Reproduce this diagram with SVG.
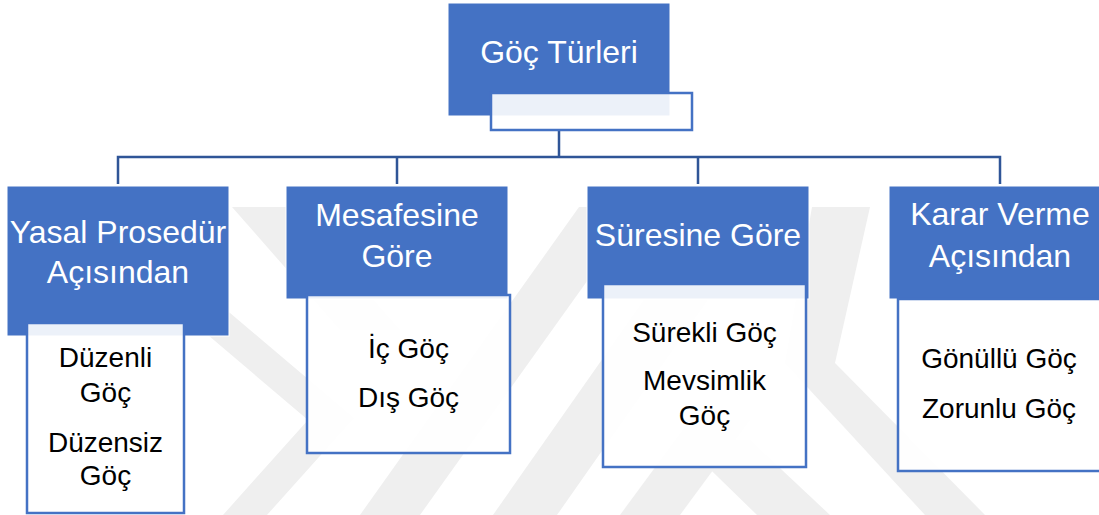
<svg xmlns="http://www.w3.org/2000/svg" width="1099" height="515" viewBox="0 0 1099 515">
<style>
.wm{fill:#EFEFEF}
.head{fill:#4472C4;stroke:#FFFFFF;stroke-width:1}
.sub{fill:#FFFFFF;fill-opacity:0.9;stroke:#4472C4;stroke-width:2.5}
.ht{font-family:"Liberation Sans",Arial,sans-serif;font-size:32px;fill:#FFFFFF;text-anchor:middle}
.st{font-family:"Liberation Sans",Arial,sans-serif;font-size:28px;fill:#000000;text-anchor:middle}
.conn{fill:none;stroke:#2F5597;stroke-width:2.5}
</style>
<rect width="1099" height="515" fill="#FFFFFF"/>
<g id="watermark">
<polygon class="wm" points="57,207 105,207 354,418 267,515 223,515 308,420"/>
<polygon class="wm" points="232,207 292,207 400,330 340,330"/>
<polygon class="wm" points="579,207 640,207 420,515 360,515"/>
<polygon class="wm" points="709,207 773,207 557,515 493,515"/>
<polygon class="wm" points="812,207 870,207 835,363 985,515 925,515 785,363"/>
<polygon class="wm" points="680,440 750,440 830,515 757,515"/>
<polygon class="wm" points="690,420 750,420 680,515 620,515"/>
</g>
<g id="connectors">
<path class="conn" d="M559,130 V157 M118,184 V157 H1000 V184 M397,157 V184 M698,157 V184"/>
</g>
<g id="root">
<rect class="head" x="448" y="3" width="222" height="113"/>
<text class="ht" x="559" y="63">Göç Türleri</text>
<rect class="sub" x="491" y="93" width="201" height="37"/>
</g>
<g id="yasal">
<rect class="head" x="7" y="186" width="222" height="150"/>
<text class="ht" x="118" y="243" font-size="31">Yasal Prosedür</text>
<text class="ht" x="118" y="283">Açısından</text>
</g>
<g id="yasal-items">
<rect class="sub" x="27" y="323" width="157" height="190"/>
<text class="st" x="105.5" y="367">Düzenli</text>
<text class="st" x="105.5" y="402">Göç</text>
<text class="st" x="105.5" y="452">Düzensiz</text>
<text class="st" x="105.5" y="485">Göç</text>
</g>
<g id="mesafe">
<rect class="head" x="286" y="186" width="222" height="113"/>
<text class="ht" x="397" y="226">Mesafesine</text>
<text class="ht" x="397" y="267">Göre</text>
</g>
<g id="mesafe-items">
<rect class="sub" x="307" y="295" width="203" height="158"/>
<text class="st" x="408.5" y="358">İç Göç</text>
<text class="st" x="408.5" y="407">Dış Göç</text>
</g>
<g id="sure">
<rect class="head" x="587" y="186" width="222" height="113"/>
<text class="ht" x="698" y="246">Süresine Göre</text>
</g>
<g id="sure-items">
<rect class="sub" x="603" y="284" width="203" height="183"/>
<text class="st" x="704.5" y="342">Sürekli Göç</text>
<text class="st" x="704.5" y="390">Mevsimlik</text>
<text class="st" x="704.5" y="425">Göç</text>
</g>
<g id="karar">
<rect class="head" x="889" y="186" width="222" height="113"/>
<text class="ht" x="1000" y="225">Karar Verme</text>
<text class="ht" x="1000" y="267">Açısından</text>
</g>
<g id="karar-items">
<rect class="sub" x="898" y="299" width="205" height="172"/>
<text class="st" x="999" y="368">Gönüllü Göç</text>
<text class="st" x="999" y="418">Zorunlu Göç</text>
</g>
</svg>
